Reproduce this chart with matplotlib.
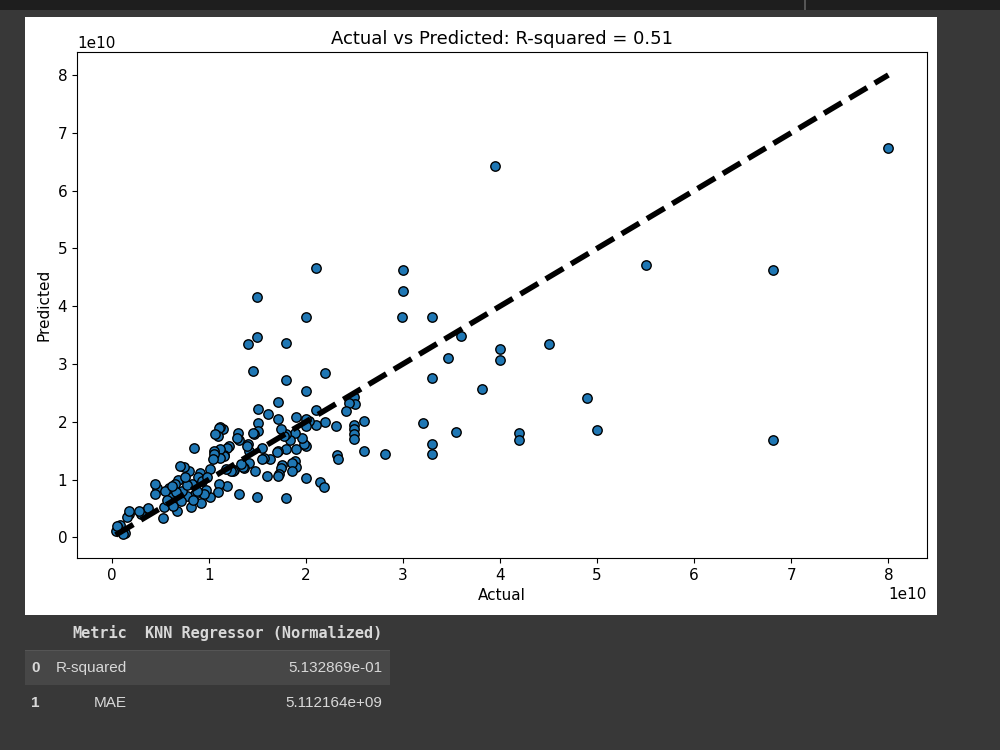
import numpy as np
import matplotlib
matplotlib.use("Agg")
import matplotlib.pyplot as plt
from matplotlib.patches import Rectangle

# ---- data (in units of 1e10) ----
actual_e10 = [
    8.0, 3.95, 5.50, 6.81, 6.81, 5.0, 4.90, 4.50, 4.2, 4.2, 4.0, 4.0, 3.81, 3.6, 3.46, 3.55,
    3.30, 3.30, 3.30, 3.30, 3.21, 3.0, 3.0, 2.99, 2.81, 2.60, 2.60, 2.10, 1.50, 2.0, 1.50, 1.40,
    1.79, 1.45, 1.79, 2.20, 2.0,
    2.50, 2.51, 2.44, 2.41, 2.50, 2.50, 2.50, 2.50, 2.31, 2.32, 2.33, 2.20, 2.10, 2.10, 2.03,
    2.0, 2.0, 2.0, 1.98, 1.96, 2.0, 2.15, 2.19, 1.90, 1.89, 1.90, 1.89, 1.90, 1.86, 1.86, 1.84,
    1.80, 1.80, 1.79, 1.77, 1.74, 1.75, 1.74, 1.72, 1.71, 1.71, 1.71, 1.71, 1.70, 1.63, 1.61,
    1.60, 1.57, 1.55, 1.55, 1.51, 1.51, 1.51, 1.50, 1.48, 1.47, 1.45, 1.41, 1.41, 1.40, 1.39,
    1.36, 1.35, 1.33, 1.31, 1.30, 1.29, 1.31, 1.26, 1.25, 1.23, 1.21, 1.19, 1.19, 1.18, 1.16,
    1.16, 1.15, 1.12, 1.12, 1.11, 1.10, 1.10, 1.09, 1.09, 1.06, 1.05, 1.05, 1.04, 1.01, 1.01,
    0.97, 0.95, 0.92, 0.91, 0.89, 0.86, 0.85, 0.83, 0.82, 0.80, 0.77, 0.74, 0.71, 0.70, 0.68,
    0.67, 0.65, 0.62, 0.60, 0.59, 0.54, 0.53, 0.47, 0.45, 0.45, 0.36, 0.30, 0.18, 0.16, 0.14,
    0.09, 0.06, 0.04, 0.12, 0.05, 0.37, 0.28, 0.18,
    0.55, 0.63, 0.72, 0.78, 0.88, 0.93, 0.98, 0.57, 0.66, 0.75, 0.84, 0.62,
]
predicted_e10 = [
    6.73, 6.42, 4.71, 4.63, 1.68, 1.85, 2.41, 3.34, 1.81, 1.68, 3.26, 3.06, 2.57, 3.48, 3.10, 1.83,
    3.82, 2.75, 1.61, 1.44, 1.98, 4.63, 4.26, 3.82, 1.45, 2.02, 1.50, 4.66, 4.16, 3.82, 3.47, 3.35,
    3.37, 2.88, 2.73, 2.85, 2.54,
    2.43, 2.30, 2.33, 2.18, 1.95, 1.87, 1.78, 1.70, 1.93, 1.42, 1.35, 2.00, 2.21, 1.95, 2.01,
    2.05, 1.92, 1.58, 1.62, 1.72, 1.02, 0.95, 0.87, 2.08, 1.81, 1.52, 1.32, 1.22, 1.28, 1.15, 1.68,
    1.52, 0.68, 1.78, 1.75, 1.87, 1.25, 1.20, 1.09, 2.34, 2.05, 1.49, 1.06, 1.48, 1.36, 2.14,
    1.06, 1.38, 1.55, 1.35, 2.22, 1.97, 1.84, 0.70, 1.15, 1.78, 1.81, 1.49, 1.28, 1.61, 1.58,
    1.20, 1.22, 1.26, 1.69, 1.81, 1.72, 0.75, 1.17, 1.15, 1.15, 1.58, 1.55, 0.89, 1.19, 1.42,
    1.40, 1.88, 1.52, 1.38, 1.91, 1.89, 0.92, 1.75, 0.79, 1.78, 1.49, 1.45, 1.35, 1.19, 0.69,
    0.82, 0.75, 0.59, 1.12, 1.05, 0.75, 1.55, 0.92, 0.52, 1.15, 0.72, 1.22, 0.62, 1.23, 0.99,
    0.46, 0.92, 0.72, 0.61, 0.85, 0.52, 0.34, 0.85, 0.92, 0.75, 0.48, 0.41, 0.40, 0.36, 0.08,
    0.21, 0.16, 0.11, 0.05, 0.20, 0.51, 0.45, 0.45,
    0.80, 0.55, 0.80, 0.90, 0.80, 0.97, 1.05, 0.65, 0.78, 1.05, 0.65, 0.88,
]
r_squared = 0.5132869
mae = 5.112164e9

title_text = f"Actual vs Predicted: R-squared = {r_squared:.2f}"
table_header = ["Metric", "KNN Regressor (Normalized)"]
table_rows = [("0", "R-squared", f"{r_squared:.6e}"), ("1", "MAE", f"{mae:.6e}")]

actual = np.array(actual_e10) * 1e10
predicted = np.array(predicted_e10) * 1e10

# ---- figure ----
BG = "#383838"
fig = plt.figure(figsize=(10, 7.5), dpi=100, facecolor=BG)

def fx(px):
    return px / 1000.0

def fy(py):
    return 1 - py / 750.0

# top dark strip
fig.add_artist(Rectangle((0, fy(10)), 1, 10 / 750, transform=fig.transFigure,
                         facecolor="#1e1e1e", edgecolor="none", zorder=0))
fig.add_artist(Rectangle((fx(804), fy(10)), 0.002, 10 / 750, transform=fig.transFigure,
                         facecolor="#555555", edgecolor="none", zorder=0))
# white output panel
fig.add_artist(Rectangle((fx(25), fy(615)), fx(912), 598 / 750, transform=fig.transFigure,
                         facecolor="white", edgecolor="none", zorder=0))

ax = fig.add_axes([fx(77), fy(558), fx(927 - 77), (558 - 52) / 750])
ax.scatter(actual, predicted, s=46, color="#1f77b4", edgecolors="k", linewidths=1.0, zorder=2)
lo, hi = actual.min(), actual.max()
ax.plot([lo, hi], [lo, hi], "k--", lw=4, zorder=3)
ax.set_title(title_text, fontsize=13)
ax.set_xlabel("Actual", fontsize=11)
ax.set_ylabel("Predicted", fontsize=11)
ax.tick_params(labelsize=11)
ax.xaxis.get_offset_text().set_fontsize(11)
ax.yaxis.get_offset_text().set_fontsize(11)

# ---- table below the chart ----
txt = "#d8d8d8"
fig.add_artist(Rectangle((fx(25), fy(685)), fx(365), 34 / 750, transform=fig.transFigure,
                         facecolor="#474747", edgecolor="none", zorder=0))
fig.add_artist(Rectangle((fx(25), fy(651)), fx(365), 1.5 / 750, transform=fig.transFigure,
                         facecolor="#555555", edgecolor="none", zorder=0))
fig.text(fx(127), fy(633), table_header[0], ha="right", va="center", color=txt,
         family="DejaVu Sans Mono", weight="bold", fontsize=11)
fig.text(fx(382), fy(633), table_header[1], ha="right", va="center", color=txt,
         family="DejaVu Sans Mono", weight="bold", fontsize=11)
for (idx, name, val), yy in zip(table_rows, [668, 703]):
    fig.text(fx(31), fy(yy), idx, ha="left", va="center", color=txt,
             family="Liberation Sans", weight="bold", fontsize=11)
    fig.text(fx(127), fy(yy), name, ha="right", va="center", color=txt,
             family="Liberation Sans", fontsize=11)
    fig.text(fx(382), fy(yy), val, ha="right", va="center", color=txt,
             family="Liberation Sans", fontsize=11)

fig.savefig("out.png", dpi=100, facecolor=BG)
